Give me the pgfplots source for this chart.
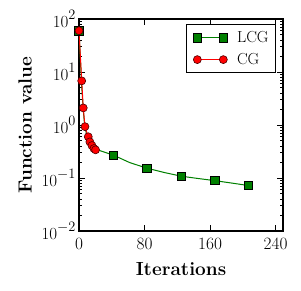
\documentclass[border=0pt]{standalone}
\usepackage{pgfplots}
\pgfplotsset{compat=1.18}
\definecolor{lcg}{rgb}{0,0.5,0}
\newcommand\tl[1]{10\raisebox{8.5pt}{\fontsize{13.5}{13.5}\selectfont$#1$}}
\begin{document}
\begin{tikzpicture}
\useasboundingbox (-79pt,-60pt) rectangle (222pt,231pt);
\begin{axis}[
  at={(0,0)}, anchor=south west,
  scale only axis, width=204pt, height=212pt,
  xmin=0, xmax=249, ymin=0.01, ymax=100, ymode=log,
  xtick={0,80,160,240},
  ytick={0.01,0.1,1,10,100},
  yticklabels={\tl{-2},\tl{-1},\tl{0},\tl{1},\tl{2}},
  tick align=inside,
  major tick length=6pt, minor tick length=3pt,
  every tick/.style={black, line width=0.9pt},
  axis line style={line width=1.3pt},
  tick label style={font=\fontsize{17}{17}\selectfont},
  xticklabel style={yshift=-3.5pt},
  label style={font=\fontsize{19}{19}\selectfont\bfseries},
  xlabel={Iterations}, ylabel={Function value},
  xlabel style={at={(axis description cs:0.5,0)}, anchor=base, yshift=-45pt, inner sep=0pt},
  ylabel style={at={(axis description cs:-0.2304,0.5)}, anchor=south, inner sep=0pt},
  legend style={at={(rel axis cs:0.966,0.976)}, anchor=north east,
    draw=black, line width=1pt,
    font=\fontsize{16}{16}\selectfont, inner xsep=7pt, inner ysep=7pt, row sep=9pt,
    column sep=9.5pt, nodes={inner sep=0pt}},
  legend cell align=left,
  legend image code/.code={\draw[#1, mark indices={1,2}] plot coordinates {(0pt,0pt) (26pt,0pt)};},
]
\addplot[color=lcg, line width=1pt, mark=square*, mark size=4.2pt,
  mark options={fill=lcg, draw=black, line width=0.8pt},
  mark indices={1,11,13,15,17,19}]
  coordinates {
  (0,60) (3,6.5) (5,2.1) (7,0.93) (9,0.7) (11,0.6) (13,0.5) (15,0.44) (18,0.39) (25,0.33)
  (42,0.27) (62,0.195) (83,0.153) (104,0.127) (125,0.108) (145,0.098) (166,0.089) (187,0.08) (207,0.072)
  };
\addlegendentry{LCG}
\addplot[color=red, line width=1pt, mark=*, mark size=4pt,
  mark options={fill=red, draw=black!70!red, line width=0.6pt}]
  coordinates {
  (0,60) (3.3,6.8) (5.2,2.1) (7.3,0.93) (11.3,0.6) (13.3,0.48) (15.8,0.41) (18.2,0.36) (20.2,0.34)
  };
\addlegendentry{CG}
\end{axis}
\end{tikzpicture}
\end{document}
